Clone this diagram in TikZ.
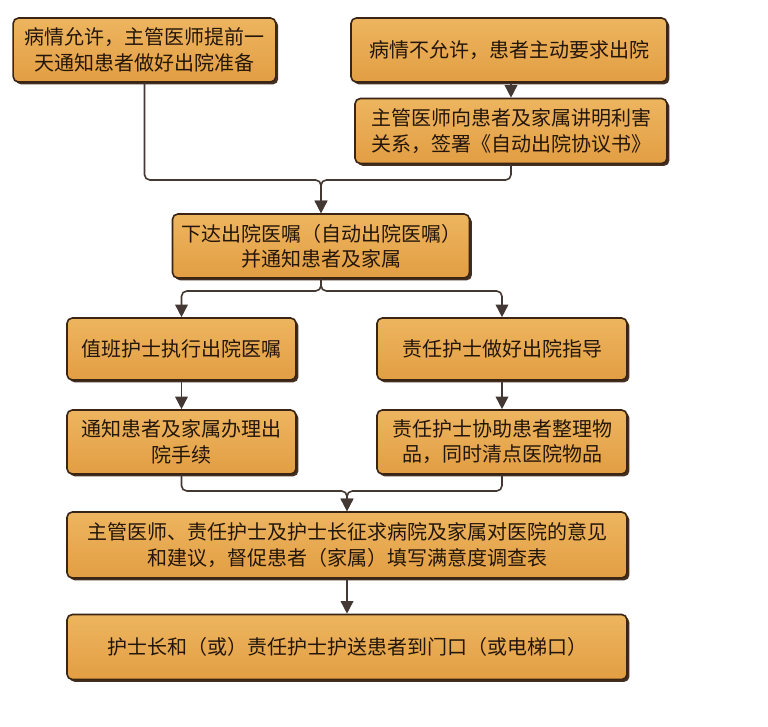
\documentclass[tikz,border=0pt]{standalone}
\usepackage{fontspec}
\newfontfamily\cjk{Noto Sans CJK SC}
\usepackage{tikz}
\usetikzlibrary{arrows.meta, shadows}
\definecolor{boxtop}{HTML}{EDB55F}
\definecolor{boxbot}{HTML}{E29E43}
\definecolor{boxline}{HTML}{3A2515}
\definecolor{linkcol}{HTML}{433833}
\definecolor{txt}{HTML}{24160B}

\begin{document}
\begin{tikzpicture}[x=0.75pt, y=-0.75pt, font=\cjk\fontsize{15}{19}\selectfont,
    box/.style={draw=boxline, line width=1.2pt, rounded corners=4pt, top color=boxtop, bottom color=boxbot,
        text=txt, align=center, inner sep=2pt,
        drop shadow={shadow xshift=1.8pt, shadow yshift=-1.8pt, fill=boxline, opacity=0.95}},
    link/.style={draw=linkcol, line width=1.2pt, rounded corners=4pt, -{Triangle[width=9.5pt,length=9.5pt]}}]
    \useasboundingbox (0,0) rectangle (768,727);

    % Nodes
    \node[box, minimum width=197pt, minimum height=48pt] (Ok) at (144.5,50) {病情允许，主管医师提前一\\天通知患者做好出院准备};
    \node[box, minimum width=237pt, minimum height=48pt] (Refuse) at (509,50) {病情不允许，患者主动要求出院};
    \node[box, minimum width=234pt, minimum height=48.75pt] (Sign) at (511,131) {主管医师向患者及家属讲明利害\\关系，签署《自动出院协议书》};
    \node[box, minimum width=222.75pt, minimum height=48pt] (Order) at (321,246) {下达出院医嘱（自动出院医嘱）\\并通知患者及家属};
    \node[box, minimum width=171.75pt, minimum height=46.5pt] (Exec) at (181.5,349) {值班护士执行出院医嘱};
    \node[box, minimum width=187.5pt, minimum height=46.5pt] (Guide) at (502,349) {责任护士做好出院指导};
    \node[box, minimum width=171.75pt, minimum height=48pt] (Proc) at (181.5,442) {通知患者及家属办理出\\院手续};
    \node[box, minimum width=187.5pt, minimum height=48pt] (Pack) at (502,442) {责任护士协助患者整理物\\品，同时清点医院物品};
    \node[box, minimum width=420pt, minimum height=49.5pt] (Survey) at (347,545) {主管医师、责任护士及护士长征求病院及家属对医院的意见\\和建议，督促患者（家属）填写满意度调查表};
    \node[box, minimum width=420pt, minimum height=48.75pt] (Escort) at (347,647) {护士长和（或）责任护士护送患者到门口（或电梯口）};

    % Lines
    \coordinate (M1) at (321,180);
    \coordinate (M2) at (321,291);
    \coordinate (M3) at (347,491);
    \draw[link] (Refuse.south -| Sign.north) -- (Sign.north);
    \draw[link] (Ok.south) |- (M1) -- (Order.north);
    \draw[link] (Sign.south) |- (M1) -- (Order.north);
    \draw[link] (Order.south) -- (M2) -| (Exec.north);
    \draw[link] (Order.south) -- (M2) -| (Guide.north);
    \draw[link] (Exec) -- (Proc);
    \draw[link] (Guide) -- (Pack);
    \draw[link] (Proc.south) |- (M3) -- (Survey.north);
    \draw[link] (Pack.south) |- (M3) -- (Survey.north);
    \draw[link] (Survey) -- (Escort);
\end{tikzpicture}
\end{document}
